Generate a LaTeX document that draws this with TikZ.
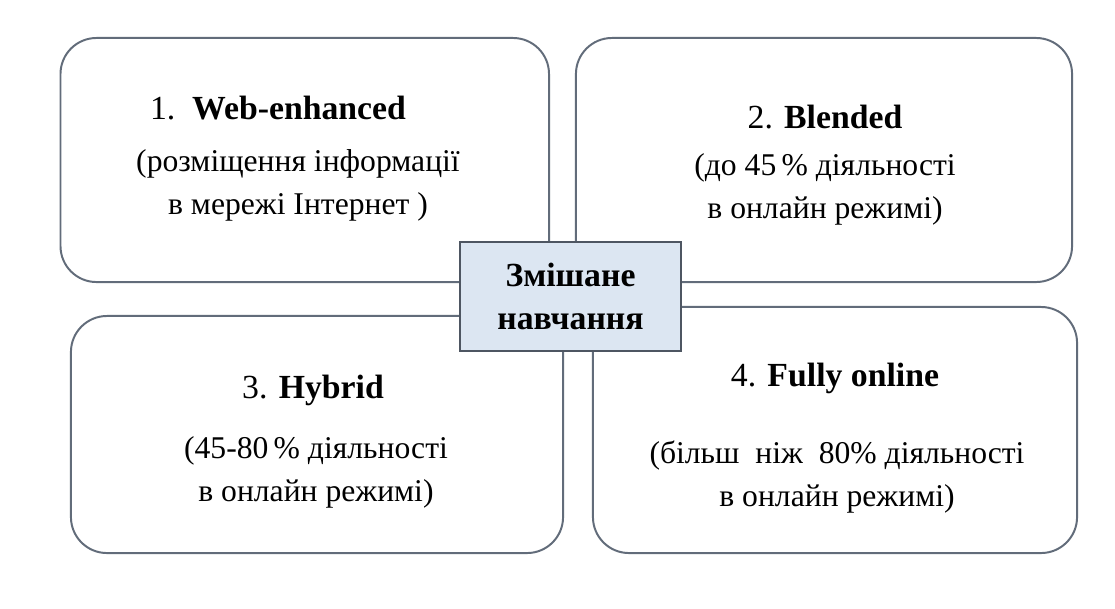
\documentclass[tikz,border=0pt]{standalone}
\usepackage{fontspec}
\setmainfont{Liberation Serif}
\usepackage{xcolor}
\usetikzlibrary{positioning}
\definecolor{edgegray}{RGB}{98,108,122}
\definecolor{hubfill}{RGB}{220,230,242}
\tikzset{panel/.style={rectangle,draw=edgegray,line width=1.4pt,rounded corners=0.9cm,fill=white},
  heading/.style={font=\fontsize{24}{28}\selectfont,inner sep=0pt},
  blurb/.style={align=center,font=\fontsize{22.5}{30.5}\selectfont,inner sep=0pt},
  hub/.style={rectangle,draw=edgegray!80!black,line width=1.4pt,fill=hubfill,align=center,
    minimum width=5.525cm,minimum height=2.725cm,font=\fontsize{24}{30}\selectfont\bfseries}}

\begin{document}
\begin{tikzpicture}[x=0.025cm,y=-0.025cm]
    \useasboundingbox (0,0) rectangle (1115,608);
    % four panels
    \node[panel,minimum width=12.21cm,minimum height=6.1cm] (web) at (304.75,160) {};
    \node[panel,minimum width=12.4cm,minimum height=6.1cm] (blend) at (824,160) {};
    \node[panel,minimum width=12.3cm,minimum height=5.925cm] (hyb) at (317,434.5) {};
    \node[panel,minimum width=12.1cm,minimum height=6.15cm] (full) at (835,430) {};

    \node[heading] (webhead) at (278,108) {1.\ \ \textbf{Web-enhanced}};
    \node[blurb] (webtext) at (298,185) {(розміщення інформації\\ в мережі Інтернет )};
    \node[heading] (blendhead) at (825,117) {2. \textbf{Blended}};
    \node[blurb] (blendtext) at (825,189) {(до 45\,\% діяльності\\ в онлайн режимі)};
    \node[heading] (hybhead) at (313,390) {3. \textbf{Hybrid}};
    \node[blurb] (hybtext) at (316,472) {(45-80\,\% діяльності\\ в онлайн режимі)};
    \node[heading] (fullhead) at (835,378) {4. \textbf{Fully online}};
    \node[blurb] (fulltext) at (837,477) {(більш \ ніж \ 80\% діяльності\\ в онлайн режимі)};

    % centre
    \node[hub] (mix) at (570.5,296.5) {Змішане\\навчання};
\end{tikzpicture}
\end{document}
